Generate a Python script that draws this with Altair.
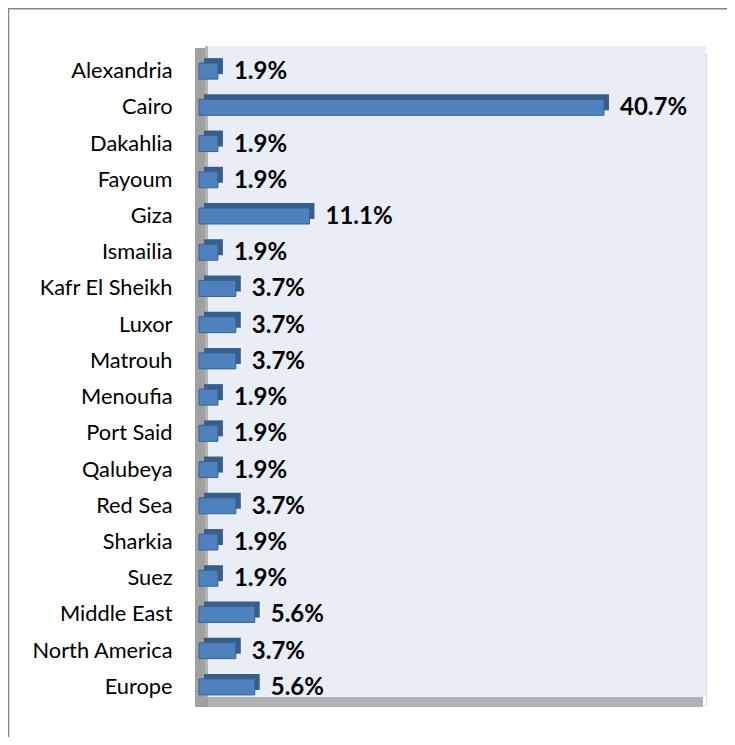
import altair as alt
import pandas as pd

categories = ["Alexandria", "Cairo", "Dakahlia", "Fayoum", "Giza", "Ismailia",
              "Kafr El Sheikh", "Luxor", "Matrouh", "Menoufia", "Port Said",
              "Qalubeya", "Red Sea", "Sharkia", "Suez", "Middle East",
              "North America", "Europe"]
values = [1.9, 40.7, 1.9, 1.9, 11.1, 1.9, 3.7, 3.7, 3.7, 1.9, 1.9, 1.9, 3.7,
          1.9, 1.9, 5.6, 3.7, 5.6]

W, H = 507, 652
df = pd.DataFrame({"cat": categories, "value": values})
one = pd.DataFrame({"k": [0]})

xs = alt.Scale(domain=[0, 50.95], nice=False, zero=True)
ys = alt.Scale(domain=categories, paddingInner=0, paddingOuter=0)

base = alt.Chart(df).encode(
    y=alt.Y("cat:N", sort=categories, scale=ys,
            axis=alt.Axis(title=None, ticks=False, domain=False, labelPadding=27,
                          labelFont="Lato", labelFontSize=21.8, labelColor="#000000",
                          labelLimit=300)),
)

frame_left = alt.Chart(one).mark_rule(stroke="#868686", strokeWidth=1.5).encode(
    x=alt.value(-190.5), y=alt.value(-45), y2=alt.value(H + 32))
frame_top = alt.Chart(one).mark_rule(stroke="#868686", strokeWidth=1.5).encode(
    x=alt.value(-191), x2=alt.value(W + 21), y=alt.value(-44.3))
back_wall = alt.Chart(one).mark_rect(color="#E9EDF6").encode(
    x=alt.value(9), x2=alt.value(W), y=alt.value(-7), y2=alt.value(644))
floor = alt.Chart(one).mark_rect(color="#AEB1B5").encode(
    x=alt.value(-4), x2=alt.value(W - 3), y=alt.value(644), y2=alt.value(654))
left_wall = alt.Chart(one).mark_rect(color="#A0A0A0").encode(
    x=alt.value(-4), x2=alt.value(9), y=alt.value(-5), y2=alt.value(654))
left_wall_edge = alt.Chart(one).mark_rect(color="#B4B4B4").encode(
    x=alt.value(6), x2=alt.value(9), y=alt.value(-7), y2=alt.value(644))

depth = base.mark_bar(size=16, color="#385E8C", xOffset=5, x2Offset=5,
                      yOffset=-5, y2Offset=-5).encode(
    x=alt.X("value:Q", scale=xs, axis=None))
front = base.mark_bar(size=16, color="#4F81BD", stroke="#3A6294", strokeWidth=1).encode(
    x=alt.X("value:Q", scale=xs, axis=None))
labels = base.transform_calculate(
    label="format(datum.value, '.1f') + '%'"
).mark_text(align="left", baseline="middle", dx=16, dy=1, font="Lato",
            fontSize=24, fontWeight="bold", color="#000000").encode(
    x=alt.X("value:Q", scale=xs, axis=None), text="label:N")

chart = alt.layer(frame_left, frame_top, back_wall, floor, left_wall, left_wall_edge,
                  depth, front, labels).properties(
    width=W, height=H,
    autosize=alt.AutoSizeParams(type="none"),
    padding={"left": 191, "top": 45, "right": 21, "bottom": 32},
).configure_view(stroke=None, fill=None).configure(background="#FFFFFF")

chart.save("out.html", embed_options={"renderer": "svg", "actions": False})
